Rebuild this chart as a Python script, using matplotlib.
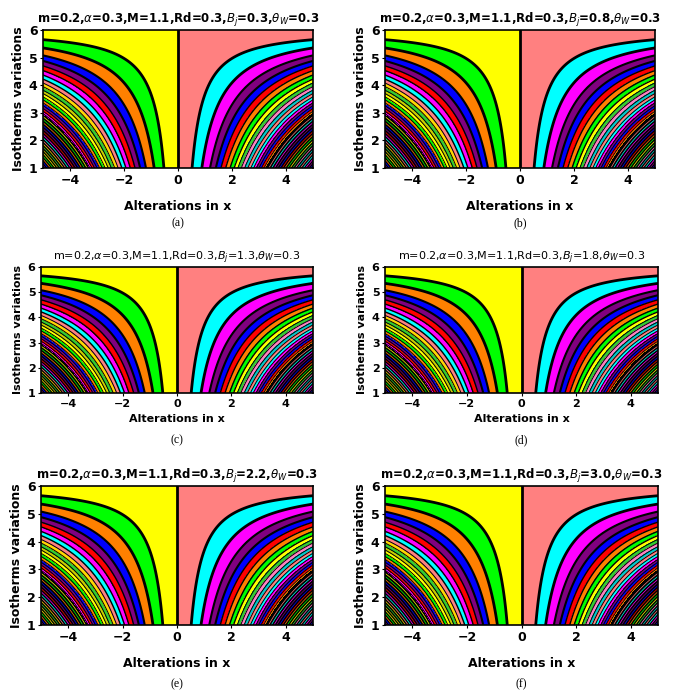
import numpy as np
import matplotlib
matplotlib.use("Agg")
import matplotlib.pyplot as plt

Bj_values = ["0.3", "0.8", "1.3", "1.8", "2.2", "3.0"]
panel_labels = ["(a)", "(b)", "(c)", "(d)", "(e)", "(f)"]
power = 0.85
# depth below y=6 at which each isotherm meets x=±5
band_depths = [0.35, 0.65, 0.92, 1.12, 1.30, 1.47, 1.63, 1.78, 1.92, 2.05,
               2.18, 2.30, 2.42, 2.53, 2.64, 2.74, 2.84, 2.94, 3.03]
line_depths = [3.14, 3.25, 3.36, 3.47, 3.58, 3.69, 3.80, 3.91, 4.02, 4.13,
               4.24, 4.35, 4.46, 4.57, 4.68, 4.79, 4.90, 5.01, 5.12]

left_colors = ["#ffff00", "#00ff00", "#ff8000", "#0000ff", "#800080", "#ff0000",
               "#ff00ff", "#00ffff", "#ff8080", "#ffd700", "#33cc33", "#cccc00"]
right_colors = ["#ff8080", "#00ffff", "#ff00ff", "#800080", "#0000ff", "#ff0000",
                "#ff8000", "#00ff00", "#ffff00", "#33cc33", "#ff80c0", "#00cccc"]

fig = plt.figure(figsize=(6.85, 6.91), dpi=100)
W, H = 685, 691
boxes = [(43, 30, 313, 168), (385, 30, 655, 168),
         (41, 267, 313, 393), (385, 267, 658, 393),
         (41, 486, 313, 625), (385, 486, 658, 625)]

x = np.linspace(-5, 5, 1001)
y = np.linspace(1, 6, 601)
X, Y = np.meshgrid(x, y)

for i, (x0, y0, x1, y1) in enumerate(boxes):
    ax = fig.add_axes([x0 / W, 1 - y1 / H, (x1 - x0) / W, (y1 - y0) / H])
    psi = X * (6 - Y) ** power
    sep = 5 * np.array(band_depths) ** power
    extra = 5 * np.array(line_depths) ** power
    nf = len(sep)
    rlev = np.concatenate([[0], sep, [1e3]])
    rcol = [right_colors[j % 12] for j in range(nf)] + ["black"]
    ax.contourf(X, Y, psi, levels=rlev, colors=rcol)
    llev = np.concatenate([[-1e3], -sep[::-1], [0]])
    lcol = ["black"] + [left_colors[j % 12] for j in range(nf)][::-1]
    ax.contourf(X, Y, psi, levels=llev, colors=lcol)
    widths = [2.0 if n < 2 else (1.5 if n < 4 else (1.0 if n < 8 else 0.7)) for n in range(nf)]
    ax.contour(X, Y, psi, levels=sep, colors="black", linewidths=widths, linestyles="solid")
    ax.contour(X, Y, psi, levels=-sep[::-1], colors="black", linewidths=widths[::-1], linestyles="solid")
    ax.contour(X, Y, psi, levels=extra, colors=[right_colors[j % 12] for j in range(len(extra))],
               linewidths=0.5, linestyles="solid")
    ax.contour(X, Y, psi, levels=-extra[::-1], colors=[left_colors[j % 12] for j in range(len(extra))][::-1],
               linewidths=0.5, linestyles="solid")
    ax.axvline(0, color="black", lw=2)
    ax.set_xlim(-5, 5)
    ax.set_ylim(1, 6)
    ax.set_xticks([-4, -2, 0, 2, 4])
    ax.set_xticklabels(["\u22124", "\u22122", "0", "2", "4"])
    ax.set_yticks([1, 2, 3, 4, 5, 6])
    mid = (i // 2 == 1)
    fs = 8 if mid else 9
    for lab in ax.get_xticklabels() + ax.get_yticklabels():
        lab.set_fontweight("bold")
        lab.set_fontsize(fs)
    ax.tick_params(length=2, pad=2)
    for s in ax.spines.values():
        s.set_linewidth(1.2)
    ax.set_xlabel("Alterations in x", fontsize=fs, fontweight="bold", labelpad=10 if not mid else 4)
    ax.set_ylabel("Isotherms variations", fontsize=fs, fontweight="bold", labelpad=3)
    title = r"m=0.2,$\alpha$=0.3,M=1.1,Rd=0.3,$B_j$=" + Bj_values[i] + r",$\theta_W$=0.3"
    ax.set_title(title, fontsize=8 if mid else 8.5, fontweight="normal" if mid else "bold", pad=5)
    ypos = {0: -0.36, 1: -0.33, 2: -0.38}[i // 2]
    ax.text(0.5, ypos, panel_labels[i], transform=ax.transAxes,
            ha="center", va="top", fontsize=8.5, family="Liberation Serif")

fig.savefig("out.png", dpi=100)
